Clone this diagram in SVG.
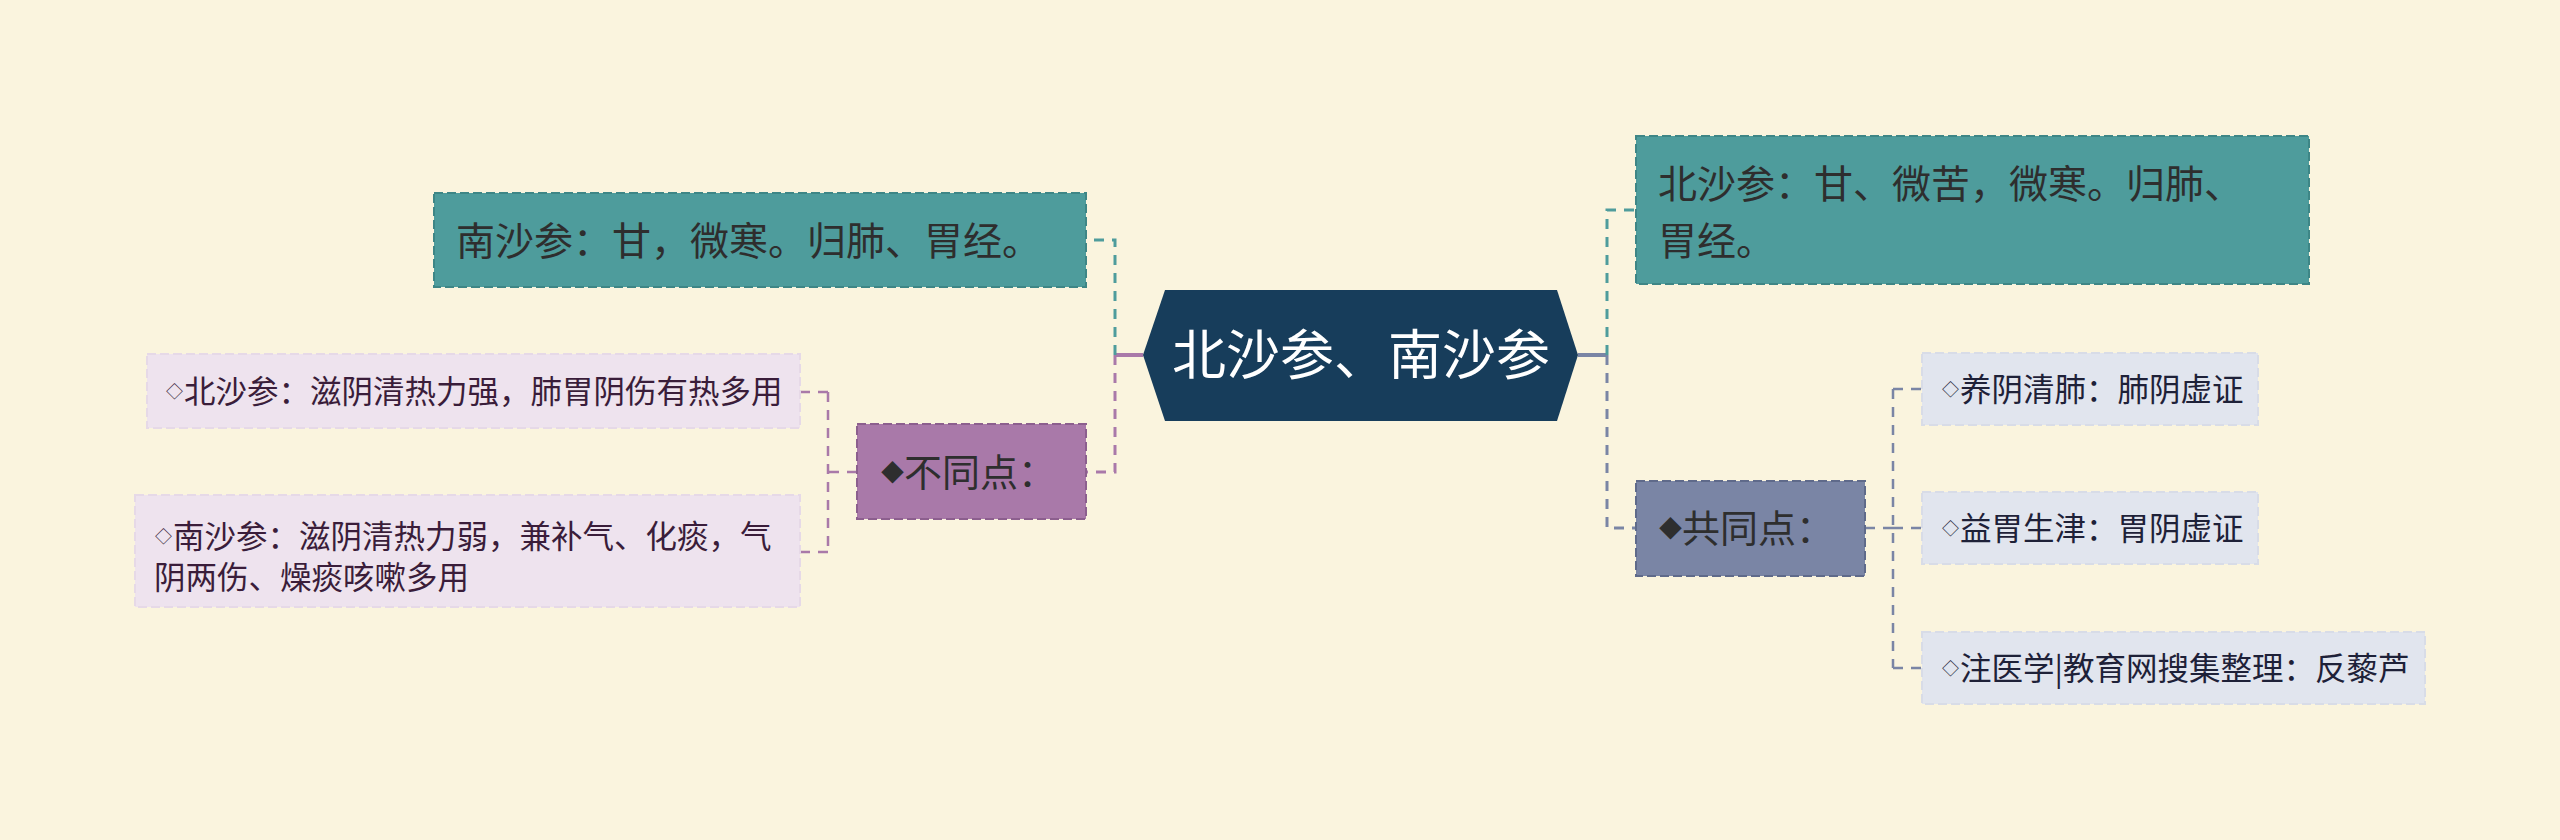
<svg xmlns="http://www.w3.org/2000/svg" width="2560" height="840" viewBox="0 0 2560 840">
<style>
text{font-family:"Noto Sans CJK SC","Noto Sans",sans-serif}
.box{stroke-width:2;stroke-dasharray:9 4}
.teal{fill:#4e9c9c;stroke:#3e8686}
.purp{fill:#a979a9;stroke:#8c5f8e}
.slate{fill:#7a85a5;stroke:#5f6a8a}
.lleaf{fill:#eee3ee;stroke:#e6d9e7}
.rleaf{fill:#e1e5ee;stroke:#d8dce7}
.t1{font-size:39px;fill:#2e2e2e}
.t2{font-size:38px;fill:#2e2e2e}
.tl{font-size:31.5px;fill:#3a1d3a}
.tr{font-size:31.5px;fill:#1e2138}
.d1{font-size:23px}
.d2{font-size:17px}
.c{fill:none;stroke-width:3;stroke-dasharray:10 8}
.cs{fill:none;stroke-width:4}
.cl{fill:none;stroke-width:2.5;stroke-dasharray:10 8}
</style>
<rect width="2560" height="840" fill="#faf4de"/>
<g id="connectors">
  <path class="cs" d="M1143 355 H1115" stroke="#a979a9"/>
  <path class="c" d="M1115 355 V240 H1086" stroke="#4e9c9c"/>
  <path class="c" d="M1115 355 V472 H1086" stroke="#a979a9"/>
  <path class="cs" d="M1578 355 H1607" stroke="#7a85a5"/>
  <path class="c" d="M1607 355 V210 H1636" stroke="#4e9c9c"/>
  <path class="c" d="M1607 355 V528 H1636" stroke="#7a85a5"/>
  <path class="cl" d="M857 472 H828" stroke="#a979a9"/>
  <path class="cl" d="M828 392 V552" stroke="#a979a9"/>
  <path class="cl" d="M828 392 H800 M828 552 H800" stroke="#a979a9"/>
  <path class="cl" d="M1865 528 H1893" stroke="#7a85a5"/>
  <path class="cl" d="M1893 389 V668" stroke="#7a85a5"/>
  <path class="cl" d="M1893 389 H1922 M1893 528 H1922 M1893 668 H1922" stroke="#7a85a5"/>
</g>
<g id="center">
  <polygon points="1165,290 1557,290 1578,355 1557,421 1165,421 1143,355" fill="#173d5b"/>
  <text x="1361" y="375" text-anchor="middle" font-size="54" fill="#ffffff">北沙参、南沙参</text>
</g>
<g id="nan-xingwei">
  <rect class="box teal" x="434" y="193" width="652" height="94"/>
  <text class="t1" x="456" y="255">南沙参：甘，微寒。归肺、胃经。</text>
</g>
<g id="bei-xingwei">
  <rect class="box teal" x="1636" y="136" width="673" height="148"/>
  <text class="t1" x="1658" y="198">北沙参：甘、微苦，微寒。归肺、</text>
  <text class="t1" x="1658" y="255">胃经。</text>
</g>
<g id="butongdian">
  <rect class="box purp" x="857" y="424" width="229" height="95"/>
  <text class="t2" y="486"><tspan class="d1" x="881" y="481">◆</tspan><tspan x="904" y="486">不同点：</tspan></text>
</g>
<g id="gongtongdian">
  <rect class="box slate" x="1636" y="481" width="229" height="95"/>
  <text class="t2" y="542"><tspan class="d1" x="1659" y="537">◆</tspan><tspan x="1682" y="542">共同点：</tspan></text>
</g>
<g id="leaf-bei">
  <rect class="box lleaf" x="147" y="354" width="653" height="74"/>
  <text class="tl" y="403"><tspan class="d2" x="166" y="398">◇</tspan><tspan x="184" y="403">北沙参：滋阴清热力强，肺胃阴伤有热多用</tspan></text>
</g>
<g id="leaf-nan">
  <rect class="box lleaf" x="135" y="495" width="665" height="112"/>
  <text class="tl" y="548"><tspan class="d2" x="155" y="543">◇</tspan><tspan x="173" y="548">南沙参：滋阴清热力弱，兼补气、化痰，气</tspan></text>
  <text class="tl" x="154" y="589">阴两伤、燥痰咳嗽多用</text>
</g>
<g id="leaf-1">
  <rect class="box rleaf" x="1922" y="353" width="336" height="72"/>
  <text class="tr" y="401"><tspan class="d2" x="1942" y="396">◇</tspan><tspan x="1960" y="401">养阴清肺：肺阴虚证</tspan></text>
</g>
<g id="leaf-2">
  <rect class="box rleaf" x="1922" y="492" width="336" height="72"/>
  <text class="tr" y="540"><tspan class="d2" x="1942" y="535">◇</tspan><tspan x="1960" y="540">益胃生津：胃阴虚证</tspan></text>
</g>
<g id="leaf-3">
  <rect class="box rleaf" x="1922" y="632" width="503" height="72"/>
  <text class="tr" y="680"><tspan class="d2" x="1942" y="675">◇</tspan><tspan x="1960" y="680">注医学|教育网搜集整理：反藜芦</tspan></text>
</g>
</svg>
